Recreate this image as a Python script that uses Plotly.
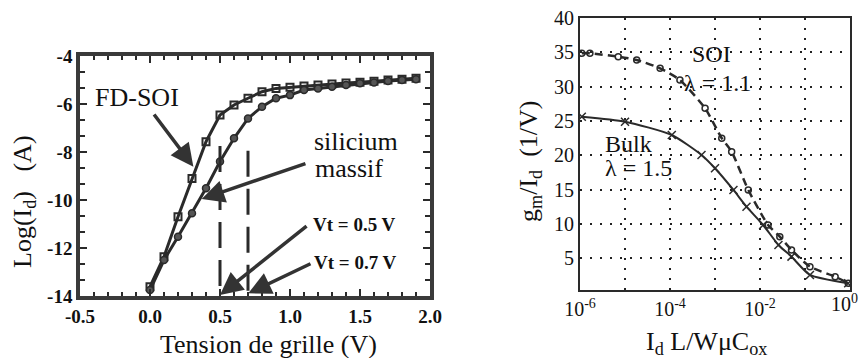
import plotly.graph_objects as go

# ---------------- data: left panel (Log(Id) vs gate voltage) ----------------
vg = [0.0, 0.1, 0.2, 0.3, 0.4, 0.5, 0.6, 0.7, 0.8, 0.9, 1.0,
      1.1, 1.2, 1.3, 1.4, 1.5, 1.6, 1.7, 1.8, 1.9]
log_id_fdsoi = [-13.61, -12.36, -10.70, -9.10, -7.57, -6.46, -6.04, -5.76, -5.49, -5.35, -5.30,
                -5.25, -5.21, -5.17, -5.13, -5.09, -5.05, -5.00, -4.97, -4.93]
log_id_bulk = [-13.75, -12.50, -11.53, -10.55, -9.51, -8.40, -7.43, -6.60, -6.11, -5.76, -5.63,
               -5.42, -5.35, -5.28, -5.21, -5.14, -5.10, -5.04, -5.00, -4.97]
vt_values = [0.5, 0.7]
vt_tops = [-7.75, -7.95]
left_xticks = [-0.5, 0.0, 0.5, 1.0, 1.5, 2.0]
left_xticktext = ["-0.5", "0.0", "0.5", "1.0", "1.5", "2.0"]
left_yticks = [-14, -12, -10, -8, -6, -4]

# ---------------- data: right panel (gm/Id vs normalized current) ----------------
soi_logx = [-5.96, -5.78, -5.15, -4.74, -4.22, -3.78, -3.22, -2.85, -2.63, -2.26,
            -1.82, -1.56, -1.30, -0.89, -0.33, -0.04]
soi_gm = [34.86, 34.86, 34.37, 33.88, 32.67, 30.97, 26.85, 22.48, 20.53, 14.95,
          9.85, 8.15, 6.21, 3.78, 2.32, 1.36]
bulk_logx = [-5.96, -5.00, -3.96, -3.30, -3.00, -2.59, -2.30, -1.93, -1.59, -1.30, -0.89, -0.04]
bulk_gm = [25.62, 24.90, 22.96, 20.05, 18.11, 14.95, 12.52, 9.85, 6.94, 5.24, 2.57, 1.36]
right_xtickvals = [1e-6, 1e-5, 1e-4, 1e-3, 1e-2, 1e-1, 1e0]
right_xticktext = ["10<sup>-6</sup>", "", "10<sup>-4</sup>", "", "10<sup>-2</sup>", "", ""]
right_last_label = "10<sup>0</sup>"
right_yticks = [5, 10, 15, 20, 25, 30, 35, 40]

soi_x = [10 ** v for v in soi_logx]
bulk_x = [10 ** v for v in bulk_logx]

W, H = 861, 358
FONT = "Liberation Serif, serif"
INK = "#2a2a2a"

def px(x):
    return x / W

def py(y):
    return 1 - y / H

fig = go.Figure()

# left panel traces
fig.add_trace(go.Scatter(
    x=vg, y=log_id_fdsoi, mode="lines+markers", xaxis="x", yaxis="y",
    line=dict(color=INK, width=3),
    marker=dict(symbol="square-open", size=7, color=INK, line=dict(width=2, color=INK)),
    showlegend=False))
fig.add_trace(go.Scatter(
    x=vg, y=log_id_bulk, mode="lines+markers", xaxis="x", yaxis="y",
    line=dict(color=INK, width=3),
    marker=dict(symbol="circle", size=7, color="#555555", line=dict(width=1.5, color=INK)),
    showlegend=False))
for v, top in zip(vt_values, vt_tops):
    fig.add_trace(go.Scatter(
        x=[v, v], y=[top, -14], mode="lines", xaxis="x", yaxis="y",
        line=dict(color=INK, width=3, dash="26px,12px"), showlegend=False))

# right panel traces
fig.add_trace(go.Scatter(
    x=soi_x, y=soi_gm, mode="lines+markers", xaxis="x2", yaxis="y2",
    line=dict(color=INK, width=2.5, dash="8px,5px", shape="spline", smoothing=0.6),
    marker=dict(symbol="circle-open", size=6, color=INK, line=dict(width=1.5)),
    showlegend=False))
fig.add_trace(go.Scatter(
    x=bulk_x, y=bulk_gm, mode="lines+markers", xaxis="x2", yaxis="y2",
    line=dict(color=INK, width=2, shape="spline", smoothing=0.6),
    marker=dict(symbol="x-thin", size=8, color=INK, line=dict(width=1.5, color=INK)),
    showlegend=False))

tickfont_left = dict(family=FONT, size=19, color="#111111")
tickfont_right = dict(family=FONT, size=20, color="#111111")

fig.update_layout(
    width=W, height=H,
    margin=dict(l=0, r=0, t=0, b=0, autoexpand=False),
    paper_bgcolor="white", plot_bgcolor="white",
    xaxis=dict(
        domain=[px(80), px(430)], range=[-0.5, 2.0], anchor="y", automargin=False,
        tickvals=left_xticks, ticktext=["<b>%s</b>" % t for t in left_xticktext],
        tickfont=tickfont_left, ticks="inside", ticklen=7, tickwidth=2, tickcolor=INK,
        minor=dict(dtick=0.1, tick0=0, ticks="inside", ticklen=4, tickwidth=2, tickcolor=INK),
        showline=True, linewidth=3.5, linecolor="#3a3a3a", mirror="ticks",
        showgrid=False, zeroline=False, fixedrange=True, ticklabeloverflow="allow"),
    yaxis=dict(
        domain=[py(296), py(56)], range=[-14, -4], anchor="x", automargin=False,
        tickvals=left_yticks, ticktext=["<b>%d</b>" % t for t in left_yticks],
        tickfont=tickfont_left, ticks="inside", ticklen=7, tickwidth=2, tickcolor=INK,
        minor=dict(dtick=2 / 3, tick0=-4, ticks="inside", ticklen=5, tickwidth=2, tickcolor=INK),
        showline=True, linewidth=3.5, linecolor="#3a3a3a", mirror="ticks",
        showgrid=False, zeroline=False, fixedrange=True, ticklabeloverflow="allow"),
    xaxis2=dict(
        domain=[px(580), px(850)], type="log", range=[-6, 0], anchor="y2", automargin=False,
        tickvals=right_xtickvals, ticktext=right_xticktext, tickfont=tickfont_right,
        ticks="", showline=True, linewidth=2, linecolor=INK, mirror=True,
        showgrid=True, gridcolor="#222222", gridwidth=2, griddash="2px,8px",
        zeroline=False, fixedrange=True, ticklabeloverflow="allow"),
    yaxis2=dict(
        domain=[py(290), py(18)], range=[0.38, 40], anchor="x2", automargin=False,
        tickvals=right_yticks, tickfont=tickfont_right,
        ticks="", showline=True, linewidth=2, linecolor=INK, mirror=True,
        showgrid=True, gridcolor="#222222", gridwidth=2, griddash="2px,8px",
        zeroline=False, fixedrange=True, ticklabeloverflow="allow"),
)

annotations = []

def text_ann(x, y, text, size, xref="x", yref="y", xanchor="left", angle=0, yanchor="middle"):
    annotations.append(dict(x=x, y=y, xref=xref, yref=yref, text=text, showarrow=False,
                            xanchor=xanchor, yanchor=yanchor, textangle=angle,
                            font=dict(family=FONT, size=size, color="#111111")))

def arrow_ann(x, y, ax, ay, xref="x", yref="y"):
    annotations.append(dict(x=x, y=y, ax=ax, ay=ay, xref=xref, yref=yref,
                            axref=xref, ayref=yref, text="", showarrow=True,
                            arrowhead=2, arrowsize=1.3, arrowwidth=3.5, arrowcolor="#333333"))

# left panel labels
text_ann(-0.407, -5.71, "FD-SOI", 26)
text_ann(1.157, -7.55, "silicium", 26)
text_ann(1.164, -8.70, "massif", 26)
text_ann(1.150, -11.0, "<b>Vt = 0.5 V</b>", 19)
text_ann(1.160, -12.6, "<b>Vt = 0.7 V</b>", 19)
arrow_ann(0.31, -8.61, 0.021, -6.375)
arrow_ann(0.369, -9.96, 1.121, -8.46)
arrow_ann(0.50, -13.96, 1.129, -11.04)
arrow_ann(0.702, -13.89, 1.157, -12.625)

# right panel labels
text_ann(-3.56, 34.8, "SOI", 24, xref="x2", yref="y2")
text_ann(-3.74, 30.6, "λ = 1.1", 24, xref="x2", yref="y2")
text_ann(-5.49, 21.6, "Bulk", 24, xref="x2", yref="y2")
text_ann(-5.49, 18.2, "λ = 1.5", 24, xref="x2", yref="y2")

# last right-panel tick label kept inside the page (as in the reference)
text_ann(px(860), py(303), right_last_label, 20, xref="paper", yref="paper", xanchor="right")

# axis titles
text_ann(px(24), py(202), "Log(I<sub>d</sub>)&nbsp;&nbsp;&nbsp;(A)", 26,
         xref="paper", yref="paper", xanchor="center", angle=-90)
text_ann(px(268), py(344), "Tension de grille (V)", 26,
         xref="paper", yref="paper", xanchor="center")
text_ann(px(530), py(162), "g<sub>m</sub>/I<sub>d</sub>&nbsp;&nbsp;(1/V)", 26,
         xref="paper", yref="paper", xanchor="center", angle=-90)
text_ann(px(706), py(343), "I<sub>d</sub> L/WμC<sub>ox</sub>", 26,
         xref="paper", yref="paper", xanchor="center")

fig.update_layout(annotations=annotations)

fig.write_html("out.html", config={"displayModeBar": False},
               post_script="document.body.style.margin='0';document.body.style.padding='0';")
